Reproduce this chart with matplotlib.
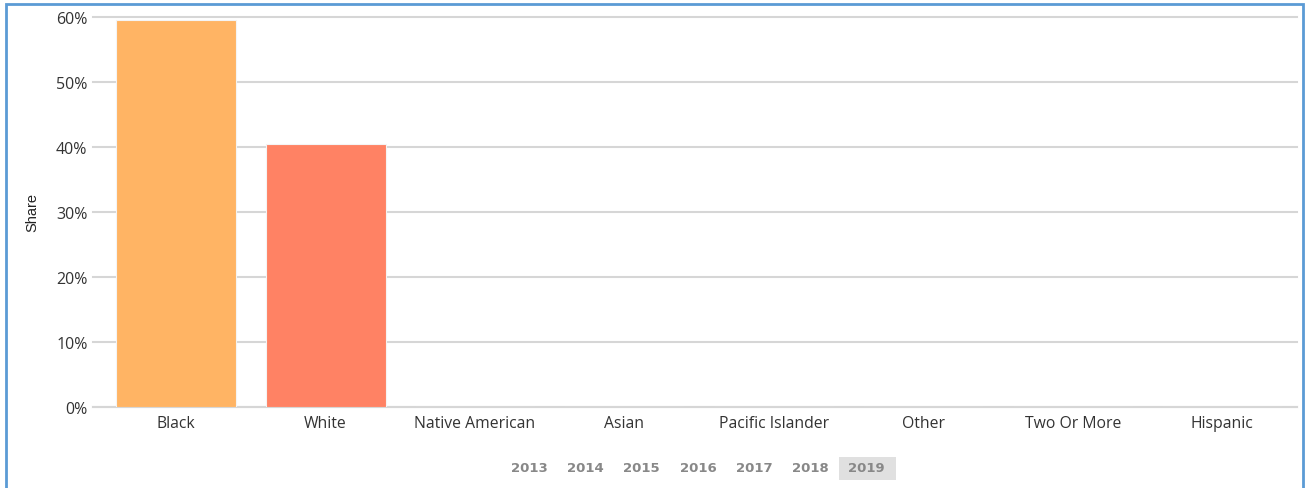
import matplotlib
matplotlib.use("Agg")
import matplotlib.pyplot as plt
from matplotlib.patches import Rectangle
from matplotlib.ticker import FuncFormatter

categories = ["Black", "White", "Native American", "Asian",
              "Pacific Islander", "Other", "Two Or More", "Hispanic"]
shares = [59.6, 40.5, 0, 0, 0, 0, 0, 0]
bar_colors = ["#ffb464", "#ff8264", "#ffb464", "#ff8264",
              "#ffb464", "#ff8264", "#ffb464", "#ff8264"]
years = ["2013", "2014", "2015", "2016", "2017", "2018", "2019"]
selected_year = "2019"
y_ticks = [0, 10, 20, 30, 40, 50, 60]

W, H = 1305, 489
fig = plt.figure(figsize=(W / 100, H / 100), dpi=100)
ax = fig.add_axes([93 / W, 1 - 408 / H, 1204 / W, 390 / H])

x = range(len(categories))
ax.bar(x, shares, width=0.803, color=bar_colors, edgecolor="#f4f4f4",
       linewidth=0.8, zorder=3)

ax.set_xlim(-0.556, len(categories) - 0.5)
ax.set_ylim(0, 60)
ax.set_yticks(y_ticks)
ax.yaxis.set_major_formatter(FuncFormatter(lambda v, p: f"{v:.0f}%"))
ax.set_xticks(list(x))
ax.set_xticklabels(categories, fontsize=11.3, color="#333333",
                   family=["Open Sans", "DejaVu Sans"])
ax.tick_params(axis="x", length=0, pad=6)
ax.tick_params(axis="y", length=0, pad=4, labelsize=11.5,
               labelcolor="#333333")
for lab in ax.get_yticklabels():
    lab.set_family(["Open Sans", "DejaVu Sans"])

ax.grid(axis="y", color="#d6d6d6", linewidth=1.5, zorder=0)
for line in ax.get_ygridlines():
    line.set_clip_on(False)
for side in ["top", "right", "left"]:
    ax.spines[side].set_visible(False)
ax.spines["bottom"].set_color("#d6d6d6")
ax.spines["bottom"].set_linewidth(1.5)

ax.set_ylabel("Share", fontsize=10.5, color="#222222",
              family=["Liberation Sans Narrow", "Liberation Sans"],
              labelpad=12)

# year selector under the chart
year_x0 = 529 / W
year_step = 56.3 / W
year_y = 1 - 469 / H
for i, yr in enumerate(years):
    xc = year_x0 + i * year_step
    if yr == selected_year:
        fig.patches.append(Rectangle((xc - 28 / W, 1 - 481 / H),
                                     57 / W, 23 / H,
                                     transform=fig.transFigure,
                                     facecolor="#e0e0e0", edgecolor="none"))
    fig.text(xc, year_y, yr, ha="center", va="center", fontsize=9.5,
             fontweight="bold", color="#888888")

# blue frame around the widget
fig.patches.append(Rectangle((6 / W, -0.05), 1297 / W, 1.05 - 5 / H,
                             transform=fig.transFigure, fill=False,
                             edgecolor="#5b9bd5", linewidth=2))

fig.savefig("out.png", dpi=100)
